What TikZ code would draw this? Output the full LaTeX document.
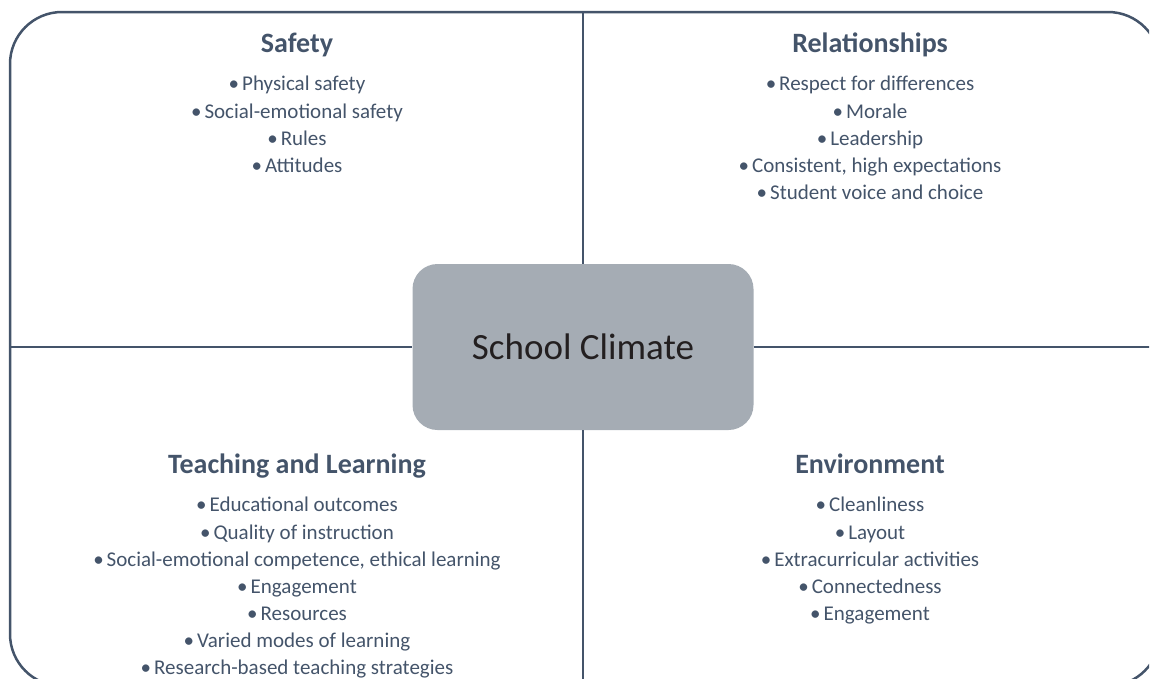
\documentclass[tikz,border=0pt]{standalone}
\usepackage{fontspec}
\setmainfont{Carlito}
\usepackage{tikz}
\usetikzlibrary{positioning}

\definecolor{slate}{HTML}{44546A}
\definecolor{hubgray}{HTML}{A5ACB4}
\definecolor{hubtext}{HTML}{231F20}

\newcommand{\bul}{•\hspace{3pt}}

\begin{document}
\begin{tikzpicture}[
    x=1pt, y=-1pt,
    node distance=18pt,
    title/.style={font=\fontsize{28}{32}\selectfont\bfseries, text=slate, inner sep=0pt, text depth=6pt, anchor=base},
    items/.style={font=\fontsize{21}{27.1}\selectfont, text=slate, align=center, inner sep=0pt},
    divider/.style={draw=slate, line width=2pt},
    frame/.style={draw=slate, line width=2.5pt, rounded corners=52pt},
    hub/.style={rectangle, rounded corners=25pt, fill=hubgray, minimum width=341pt, minimum height=166pt, font=\fontsize{37}{44}\selectfont, text=hubtext}
]
\useasboundingbox (0,0) rectangle (1151,678);
\clip (0,0) rectangle (1149,678);

% Outer frame (runs past the page edges)
\draw[frame] (10,12) rectangle (1160,686);

% Frame points for the dividers
\coordinate (topmid) at (583,12);
\coordinate (botmid) at (583,686);
\coordinate (leftmid) at (10,347);
\coordinate (rightmid) at (1160,347);

% Centre
\node[hub] (climate) at (583,347) {School Climate};

% Dividers
\draw[divider] (topmid) -- (climate.north);
\draw[divider] (climate.south) -- (botmid);
\draw[divider] (leftmid) -- (climate.west);
\draw[divider] (climate.east) -- (rightmid);

% Quadrant titles
\node[title] (safety) at (297,52) {Safety};
\node[title] (relations) at (870,52) {Relationships};
\node[title] (teaching) at (297,473) {Teaching and Learning};
\node[title] (environment) at (870,473) {Environment};

% Quadrant lists
\node[items, below=of safety] (safetylist) {%
  \bul Physical safety\\ \bul Social-emotional safety\\ \bul Rules\\ \bul Attitudes};
\node[items, below=of relations] (relationslist) {%
  \bul Respect for differences\\ \bul Morale\\ \bul Leadership\\
  \bul Consistent, high expectations\\ \bul Student voice and choice};
\node[items, below=of teaching] (teachinglist) {%
  \bul Educational outcomes\\ \bul Quality of instruction\\
  \bul Social-emotional competence, ethical learning\\ \bul Engagement\\
  \bul Resources\\ \bul Varied modes of learning\\ \bul Research-based teaching strategies};
\node[items, below=of environment] (environmentlist) {%
  \bul Cleanliness\\ \bul Layout\\ \bul Extracurricular activities\\
  \bul Connectedness\\ \bul Engagement};

\end{tikzpicture}
\end{document}
